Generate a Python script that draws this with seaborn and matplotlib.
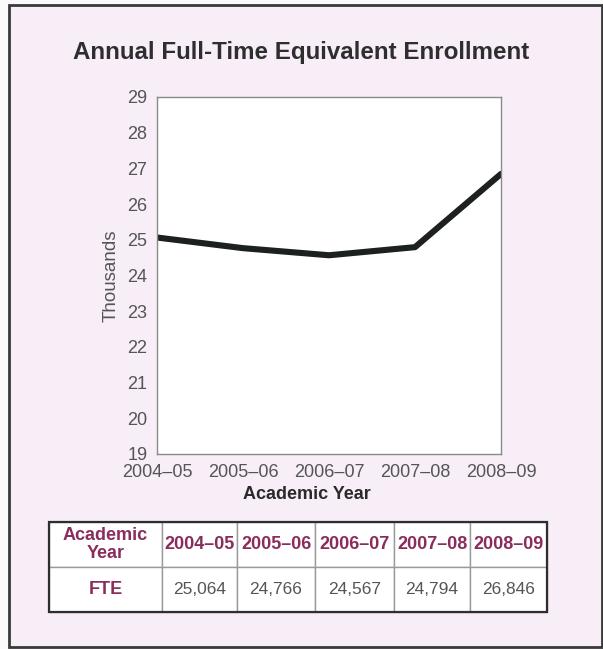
import matplotlib
matplotlib.use("Agg")
import matplotlib.pyplot as plt
import seaborn as sns
import pandas as pd
from matplotlib.patches import Rectangle

# chart data
years = ["2004–05", "2005–06", "2006–07", "2007–08", "2008–09"]
fte = [25064, 24766, 24567, 24794, 26846]
fte_labels = ["25,064", "24,766", "24,567", "24,794", "26,846"]
y_ticks = list(range(19, 30))

df = pd.DataFrame({"year": years, "thousands": [v / 1000 for v in fte]})

sns.set_style("white")
plt.rcParams["font.family"] = ["Liberation Sans", "DejaVu Sans"]

pink = "#f7eef7"
maroon = "#8a2d5c"
grey = "#555555"

fig = plt.figure(figsize=(6.03, 6.49), dpi=100)
fig.patch.set_facecolor("#fbfafb")

# outer frame (drawn behind the axes)
fig.patches.append(Rectangle((9 / 603, 2 / 649), 593 / 603, 642 / 649,
                             transform=fig.transFigure, facecolor=pink,
                             edgecolor="#3a3a3a", linewidth=2, zorder=-10))

fig.text(0.5, 1 - 52 / 649, "Annual Full-Time Equivalent Enrollment",
         ha="center", va="center", fontsize=17.4, fontweight="bold", color="#2e2e2e")

ax = fig.add_axes([157 / 603, 1 - 454 / 649, 344 / 603, 357 / 649])
sns.lineplot(data=df, x="year", y="thousands", ax=ax, color="#1c201e",
             linewidth=4.4, sort=False)
ax.set_facecolor("white")
ax.set_xlim(0, len(years) - 1)
ax.set_ylim(19, 29)
ax.set_yticks(y_ticks)
ax.tick_params(axis="both", length=0, labelsize=13, labelcolor=grey)
ax.tick_params(axis="x", pad=7)
ax.tick_params(axis="y", pad=7)
for s in ax.spines.values():
    s.set_color("#8a8a8a")
    s.set_linewidth(1)
ax.set_ylabel("Thousands", fontsize=13.5, color=grey)
ax.yaxis.set_label_coords(-0.11, 0.5)
ax.set_xlabel("Academic Year", fontsize=13, fontweight="bold", color="#2a2a2a")
ax.xaxis.set_label_coords(0.436, -0.09)

# data table
tax = fig.add_axes([49 / 603, 1 - 612 / 649, 498 / 603, 90 / 649])
tax.axis("off")
cells = [["Academic\nYear"] + years, ["FTE"] + fte_labels]
widths = [113, 75, 78, 79, 76, 77]
tot = sum(widths)
tbl = tax.table(cellText=cells, bbox=[0, 0, 1, 1], cellLoc="center",
                colWidths=[w / tot for w in widths])
tbl.auto_set_font_size(False)
for (r, c), cell in tbl.get_celld().items():
    cell.set_facecolor("white")
    cell.set_edgecolor("#9a9a9a")
    cell.set_linewidth(1)
    txt = cell.get_text()
    if r == 0 or c == 0:
        txt.set_fontsize(13)
        txt.set_color(maroon)
        txt.set_fontweight("bold")
        txt.set_linespacing(1.0)
    else:
        txt.set_fontsize(12.5)
        txt.set_color(grey)
tax.add_patch(Rectangle((0, 0), 1, 1, transform=tax.transAxes, fill=False,
                        edgecolor="#2e2e2e", linewidth=1.6, zorder=10, clip_on=False))

fig.savefig("out.png", dpi=100, facecolor=fig.get_facecolor())
